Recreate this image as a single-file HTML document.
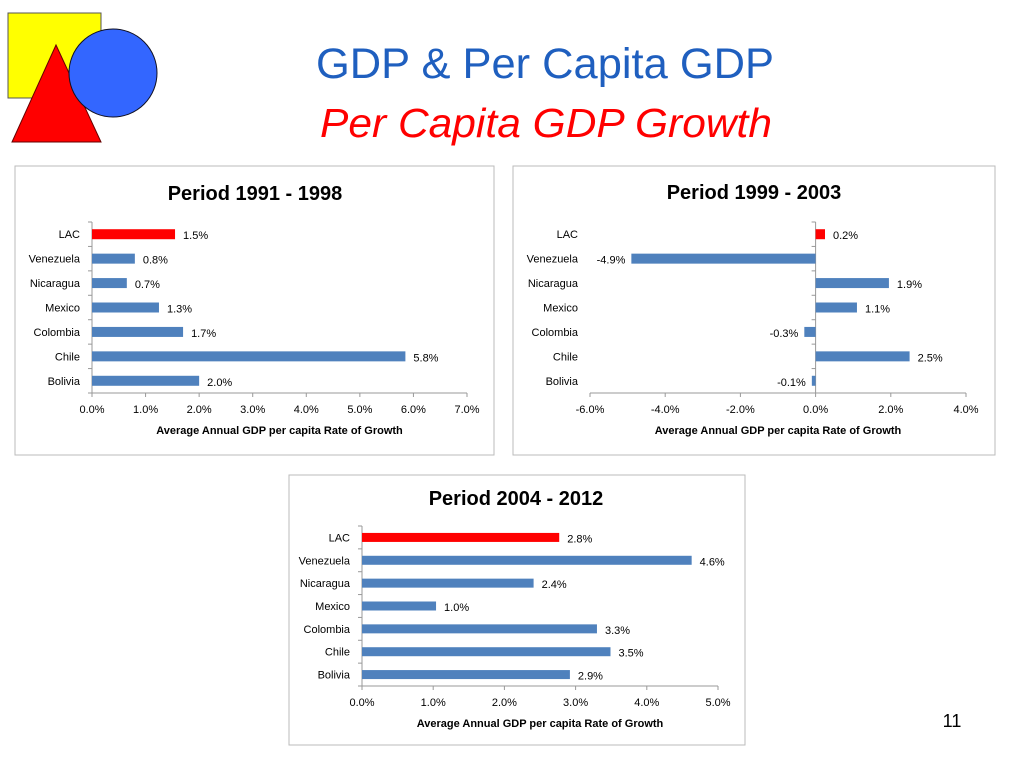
<!DOCTYPE html>
<html><head><meta charset="utf-8">
<style>
body{margin:0;width:1024px;height:768px;background:#fff;overflow:hidden;font-family:"Liberation Sans",sans-serif;}
svg{position:absolute;left:0;top:0;}
</style></head>
<body>
<svg id="s" width="1024" height="768" xmlns="http://www.w3.org/2000/svg">
  <g>
    <rect x="8" y="13" width="93" height="85" fill="#ffff00" stroke="#555" stroke-width="1"/>
    <polygon points="56,45 12,142 101,142" fill="#ff0000" stroke="#600" stroke-width="1"/>
    <circle cx="113" cy="73" r="44" fill="#3366ff" stroke="#112" stroke-width="1"/>
  </g>
  <text x="545" y="78" text-anchor="middle" font-size="43" fill="#1f5fbf" textLength="458" lengthAdjust="spacingAndGlyphs">GDP &amp; Per Capita GDP</text>
  <text x="546" y="137" text-anchor="middle" font-size="41" font-style="italic" fill="#ff0000" textLength="452" lengthAdjust="spacingAndGlyphs">Per Capita GDP Growth</text>
  <text x="952" y="727" text-anchor="middle" font-size="18" fill="#000">11</text>
</svg>
<script>
const categories=["LAC","Venezuela","Nicaragua","Mexico","Colombia","Chile","Bolivia"];
const values1=[1.55,0.8,0.65,1.25,1.7,5.85,2.0];
const labels1=["1.5%","0.8%","0.7%","1.3%","1.7%","5.8%","2.0%"];
const ticks1=[0,1,2,3,4,5,6,7];
const values2=[0.25,-4.9,1.95,1.1,-0.3,2.5,-0.1];
const labels2=["0.2%","-4.9%","1.9%","1.1%","-0.3%","2.5%","-0.1%"];
const ticks2=[-6,-4,-2,0,2,4];
const values3=[2.77,4.63,2.41,1.04,3.3,3.49,2.92];
const labels3=["2.8%","4.6%","2.4%","1.0%","3.3%","3.5%","2.9%"];
const ticks3=[0,1,2,3,4,5];

const NS="http://www.w3.org/2000/svg";
const svg=document.getElementById('s');
function mk(tag,attrs,parent,txt){const e=document.createElementNS(NS,tag);for(const k in attrs)e.setAttribute(k,attrs[k]);if(txt!==undefined)e.textContent=txt;parent.appendChild(e);return e;}

function chart(cfg){
  const g=mk('g',{},svg);
  
  
  const box=mk('rect',{x:cfg.bx,y:cfg.by,width:cfg.bw,height:cfg.bh,fill:'#fff',stroke:'#bbb','stroke-width':1},g);
  
  
  const t=mk('text',{x:cfg.tx,y:cfg.ty,'text-anchor':'middle','font-size':20,'font-weight':'bold',fill:'#000'},g,cfg.title);
  
  
  const tmin=cfg.ticks[0],tmax=cfg.ticks[cfg.ticks.length-1];
  const xs=v=>cfg.x0+(v-tmin)/(tmax-tmin)*(cfg.x1-cfg.x0);
  const n=cfg.cats.length,band=(cfg.y1-cfg.y0)/n;
  const zx=xs(Math.max(0,tmin));
  const ya=mk('line',{x1:zx,y1:cfg.y0,x2:zx,y2:cfg.y1,stroke:'#999','stroke-width':1},g);
  
  
  for(let i=0;i<=n;i++){const tk=mk('line',{x1:zx-4,y1:cfg.y0+i*band,x2:zx,y2:cfg.y0+i*band,stroke:'#999'},g);
    
    }
  const xa=mk('line',{x1:cfg.x0,y1:cfg.y1,x2:cfg.x1,y2:cfg.y1,stroke:'#999','stroke-width':1},g);
  
  
  cfg.ticks.forEach(v=>{
    const x=xs(v);
    const tk=mk('line',{x1:x,y1:cfg.y1,x2:x,y2:cfg.y1+4,stroke:'#999'},g);
    
    
    const tl=mk('text',{x:x,y:cfg.y1+20,'text-anchor':'middle','font-size':11,fill:'#000'},g,v.toFixed(1)+'%');
    
    
  });
  const at=mk('text',{x:(cfg.x0+cfg.x1)/2,y:cfg.y1+41,'text-anchor':'middle','font-size':11,'font-weight':'bold',fill:'#000'},g,'Average Annual GDP per capita  Rate of Growth');
  
  
  cfg.cats.forEach((c,i)=>{
    const cy=cfg.y0+band*(i+0.5);
    const cl=mk('text',{x:cfg.labX,y:cy+4,'text-anchor':'end','font-size':11,fill:'#000'},g,c);
    
    
    const v=cfg.vals[i],xv=xs(v);
    const b=mk('rect',{x:Math.min(zx,xv),y:cy-cfg.bhgt/2,width:Math.abs(xv-zx),height:cfg.bhgt,fill:i===0?'#ff0000':'#4f81bd'},g);
    
    
    const lx=v>=0?xv+8:Math.min(xv,zx)-6;
    const vl=mk('text',{x:lx,y:cy+5,'text-anchor':v>=0?'start':'end','font-size':11,fill:'#000'},g,cfg.labels[i]);
    
    
  });
}
chart({name:'chart-1991-1998',title:'Period 1991 - 1998',bx:15,by:166,bw:479,bh:289,tx:255,ty:200,x0:92,x1:467,y0:222,y1:393,labX:80,ticks:ticks1,cats:categories,vals:values1,labels:labels1,bhgt:10});
chart({name:'chart-1999-2003',title:'Period 1999 - 2003',bx:513,by:166,bw:482,bh:289,tx:754,ty:199,x0:590,x1:966,y0:222,y1:393,labX:578,ticks:ticks2,cats:categories,vals:values2,labels:labels2,bhgt:10});
chart({name:'chart-2004-2012',title:'Period 2004 - 2012',bx:289,by:475,bw:456,bh:270,tx:516,ty:505,x0:362,x1:718,y0:526,y1:686,labX:350,ticks:ticks3,cats:categories,vals:values3,labels:labels3,bhgt:9});
</script>
</body></html>
